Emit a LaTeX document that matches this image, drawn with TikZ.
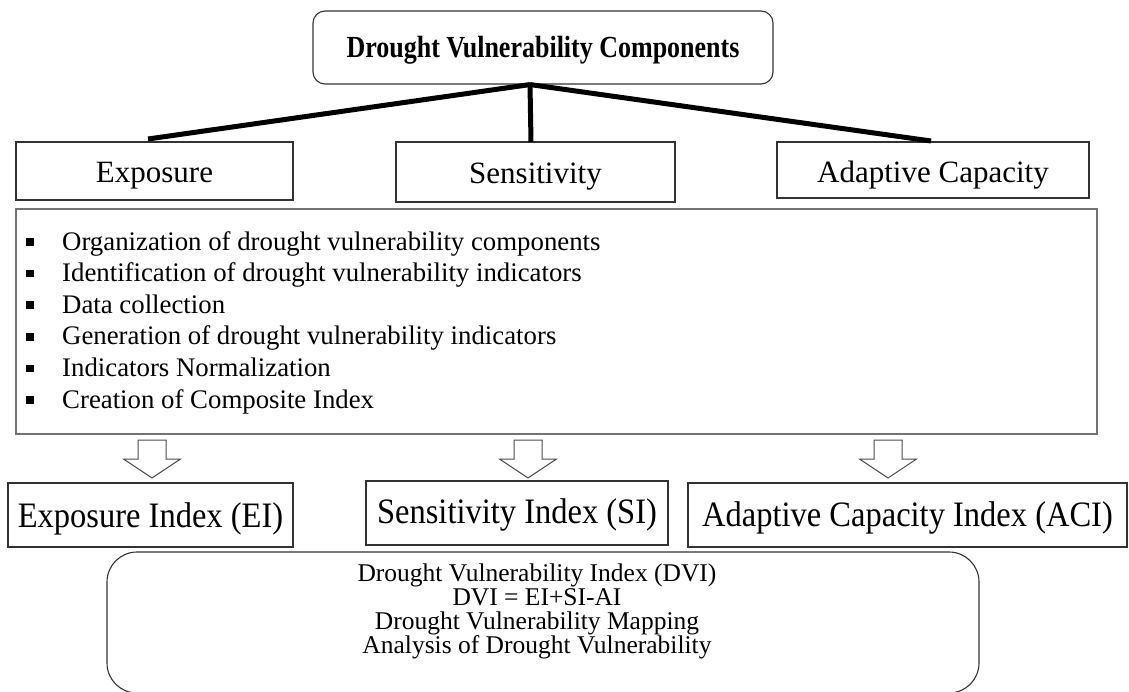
\documentclass[tikz,border=0pt]{standalone}
\usepackage{fontspec}
\usepackage{graphicx}
\setmainfont{Liberation Serif}
\usetikzlibrary{calc}
\newcommand{\vstretch}[2]{\scalebox{1}[#1]{#2}}
\begin{document}
\begin{tikzpicture}[x=1pt,y=-1pt,
  box/.style={draw=black!80, line width=1.1pt, inner sep=0pt, fill=white},
  compfont/.style={font=\fontsize{31}{36}\selectfont, text depth=0pt},
  idxfont/.style={font=\fontsize{32.5}{38}\selectfont, text depth=0pt},
  listtext/.style={anchor=base west, inner sep=0pt, font=\fontsize{26.8}{31}\selectfont},
  bulletsq/.style={fill=black, minimum size=7.5pt, inner sep=0pt},
  branch/.style={line width=5pt, black},
  hollow/.style={draw=black!70, line width=1pt, fill=white, line join=miter}
]
\useasboundingbox (0,0) rectangle (1129,691);

% top
\node[box, rounded corners=12pt, minimum width=460pt, minimum height=73pt,
      text height=19pt, text depth=0pt,
      font=\bfseries\fontsize{26}{30}\selectfont] (top) at (543,47.5) {\vstretch{1.18}{Drought Vulnerability Components}};

% components
\node[box, compfont, text height=23pt, minimum width=277pt, minimum height=58pt] (exp) at (154.5,171) {Exposure};
\node[box, compfont, text height=22pt, minimum width=279pt, minimum height=60pt] (sen) at (535.5,172) {Sensitivity};
\node[box, compfont, text height=24pt, minimum width=312pt, minimum height=56pt] (ada) at (933,170) {Adaptive Capacity};

% branches
\coordinate (j) at ($(top.south)+(-13,0)$);
\coordinate (le) at (148,139);
\coordinate (ve) at (531,142);
\coordinate (re) at (931,141);
\draw[branch] (j) -- (le);
\draw[branch] (j) -- (ve);
\draw[branch] (j) -- (re);

% big process box
\node[draw=black!55, line width=1.6pt, minimum width=1081pt, minimum height=225pt, inner sep=0pt] (proc) at (556.5,321.5) {};
\foreach \t [count=\i] in {Organization of drought vulnerability components,
  Identification of drought vulnerability indicators,
  Data collection,
  Generation of drought vulnerability indicators,
  Indicators Normalization,
  Creation of Composite Index} {
  \node[listtext] (l\i) at (62, 218.4+31.6*\i) {\t};
  \node[bulletsq] (b\i) at (30, 210.4+31.6*\i) {};
}

% hollow block arrows
\foreach \x/\n in {152/a1, 528/a2, 888/a3} {
  \coordinate (\n) at (\x,478);
  \draw[hollow] (\x-14,440) -- (\x+14,440) -- (\x+14,459) -- (\x+28.5,459) -- (\n)
       -- (\x-28.5,459) -- (\x-14,459) -- cycle;
}

% index boxes
\node[box, idxfont, text height=24pt, minimum width=285pt, minimum height=64pt] (ei) at (150.5,515) {\vstretch{1.1}{Exposure Index (EI)}};
\node[box, idxfont, text height=20pt, minimum width=302pt, minimum height=64pt] (si) at (517,513) {\vstretch{1.1}{Sensitivity Index (SI)}};
\node[box, idxfont, text height=22pt, minimum width=439pt, minimum height=64pt] (aci) at (907.5,515) {\vstretch{1.1}{Adaptive Capacity Index (ACI)}};

% DVI
\node[box, rounded corners=30pt, minimum width=872pt, minimum height=141pt] (dvi) at (543,622.5) {};
\node[align=center, inner sep=0pt, font=\fontsize{25.5}{24}\selectfont] (dvit) at (537,611)
  {Drought Vulnerability Index (DVI)\\ DVI = EI+SI-AI\\ Drought Vulnerability Mapping\\ Analysis of Drought Vulnerability};
\end{tikzpicture}
\end{document}
